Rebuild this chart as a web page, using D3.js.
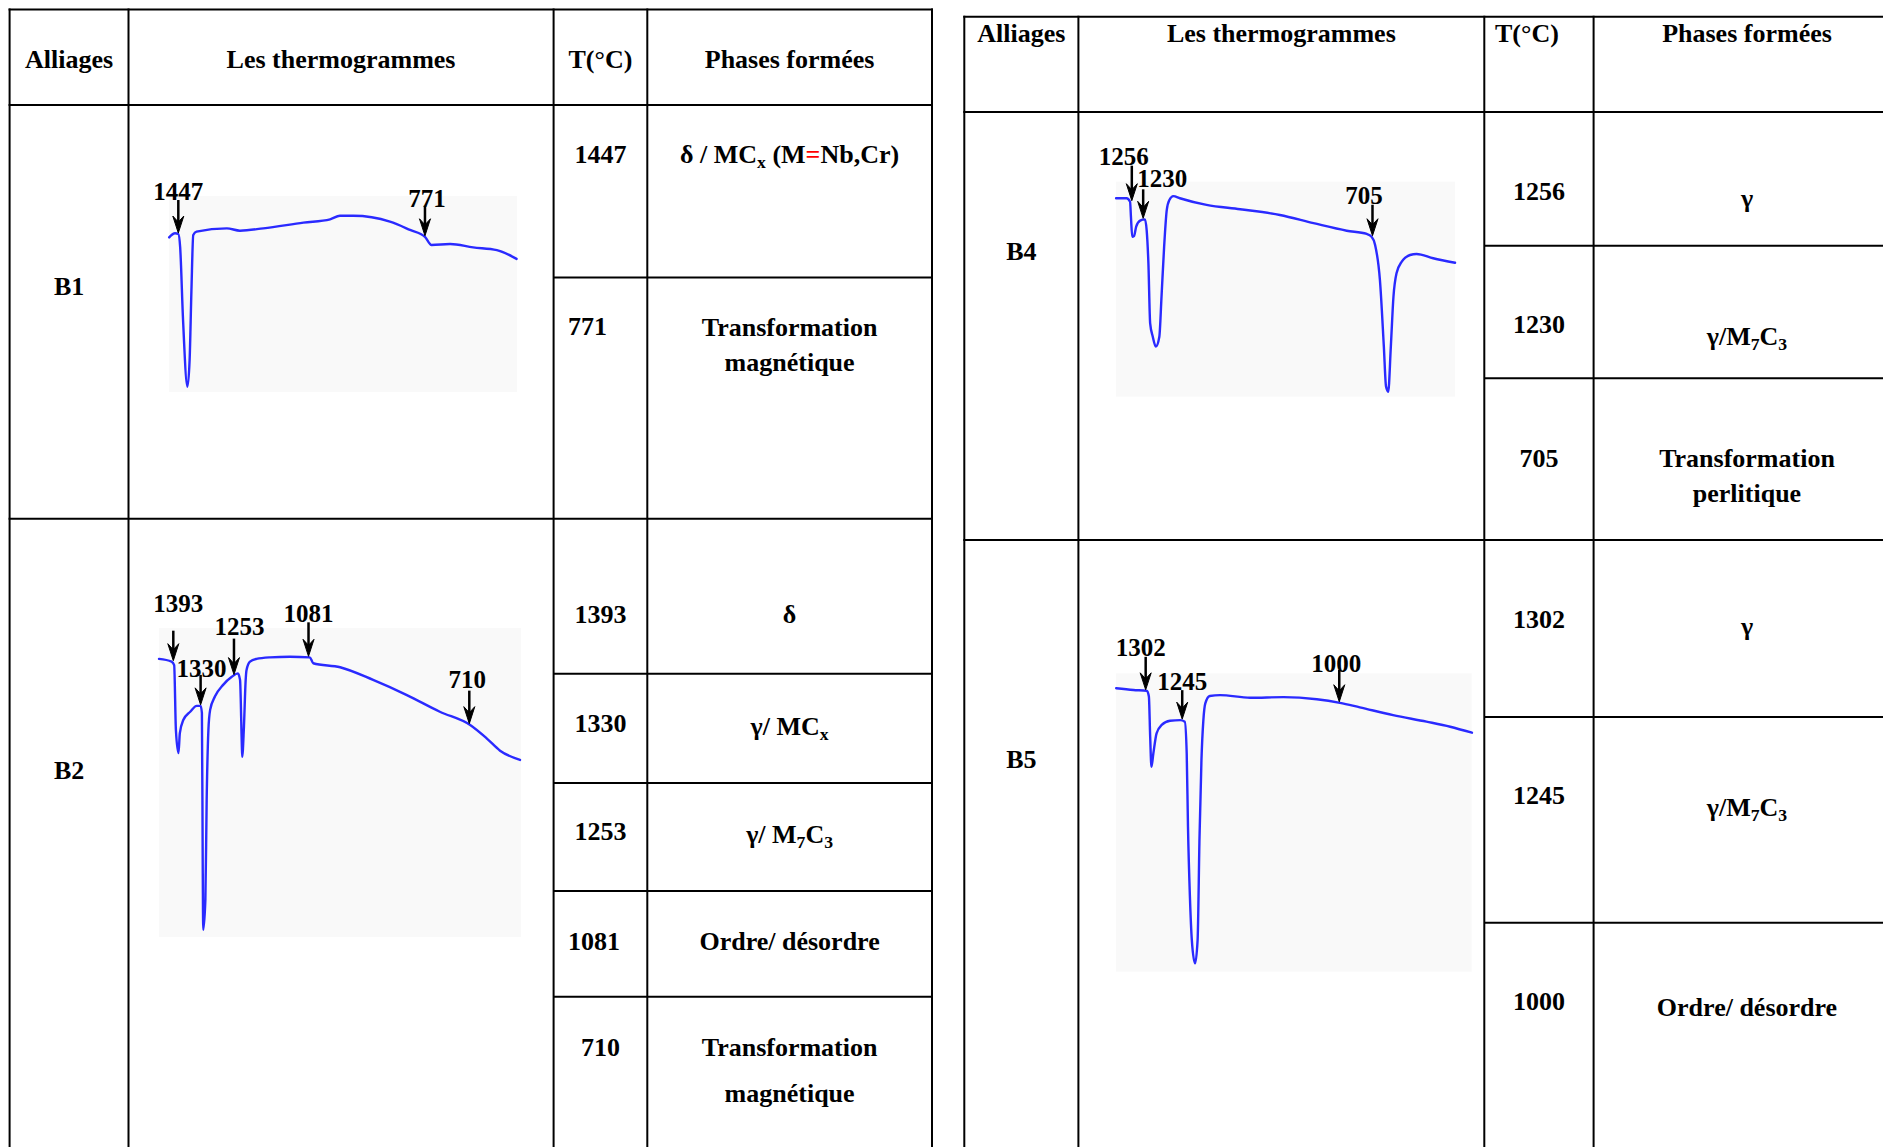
<!DOCTYPE html>
<html>
<head>
<meta charset="utf-8">
<script src="https://cdn.jsdelivr.net/npm/d3@7"></script>
<style>
  html, body { margin: 0; padding: 0; background: #fff; }
  svg { display: block; }
  text { font-family: "Liberation Serif", "Times New Roman", serif; font-weight: bold; fill: #000; }
</style>
</head>
<body>
<script>
// ---------------------------------------------------------------
// Data
// ---------------------------------------------------------------
const headers = ["Alliages", "Les thermogrammes", "T(°C)", "Phases formées"];
const alloys = ["B1", "B2", "B4", "B5"];

// Transformation temperatures picked on each cooling thermogram (°C)
const b1Peaks = [1447, 771];
const b2Peaks = [1393, 1330, 1253, 1081, 710];
const b4Peaks = [1256, 1230, 705];
const b5Peaks = [1302, 1245, 1000];

// Phases formed ('_' = one-character subscript, '\n' = line break)
const b1Phases = ["δ / MC_x (M=Nb,Cr)", "Transformation\nmagnétique"];
const b2Phases = ["δ", "γ/ MC_x", "γ/ M_7C_3", "Ordre/ désordre", "Transformation\nmagnétique"];
const b4Phases = ["γ", "γ/M_7C_3", "Transformation\nperlitique"];
const b5Phases = ["γ", "γ/M_7C_3", "Ordre/ désordre"];

// Temperature span covered by each trace (°C, high → low)
const b1Window = [1472.5, 518.8];
const b2Window = [1426, 590.7];
const b4Window = [1292.2, 516.1];
const b5Window = [1348.3, 793.4];

// DTA traces: temperature (°C) and signal (arbitrary units, 0–100)
const b1Temperature = [1472, 1456, 1447, 1442, 1434, 1422, 1416, 1411, 1406, 1397, 1314, 1278, 1214, 1104, 1031, 1004, 967, 867, 812, 771, 753, 702, 639, 574, 520];
const b1Signal      = [78.9, 81.0, 80.6, 74.1, 36.7, 2.7, 16.3, 52.0, 80.1, 81.8, 83.5, 82.3, 83.5, 86.4, 88.1, 89.9, 89.9, 86.9, 82.7, 79.2, 75.0, 75.5, 73.8, 72.4, 67.9];

const b2Temperature = [1426, 1397, 1391, 1387, 1381, 1378, 1370, 1354, 1339, 1330, 1327, 1325, 1324, 1319, 1316, 1312, 1308, 1297, 1278, 1258, 1244, 1239, 1235, 1234, 1230, 1226, 1224, 1216, 1201, 1170, 1124, 1078, 1070, 1008, 932, 854, 778, 708, 670, 639, 593];
const b2Signal      = [90.0, 89.1, 88.0, 67.0, 59.5, 65.9, 70.2, 72.9, 74.8, 74.8, 72.5, 20.7, 2.3, 12.0, 44.3, 67.0, 73.5, 77.8, 81.6, 84.2, 85.3, 83.2, 62.7, 58.3, 68.1, 83.2, 86.4, 89.1, 90.0, 90.5, 90.7, 90.5, 88.6, 87.3, 83.2, 78.3, 72.9, 68.6, 64.3, 60.3, 57.3];

const b4Temperature = [1292, 1268, 1260, 1258, 1255, 1251, 1246, 1237, 1226, 1222, 1218, 1214, 1208, 1201, 1193, 1188, 1182, 1176, 1170, 1161, 1146, 1085, 1008, 917, 840, 764, 718, 707, 699, 688, 679, 674, 669, 663, 657, 650, 638, 619, 604, 566, 516];
const b4Signal      = [92.3, 92.3, 90.7, 83.7, 74.4, 74.7, 79.1, 81.9, 82.5, 77.5, 62.0, 34.1, 27.9, 23.3, 27.9, 46.5, 69.8, 86.8, 91.5, 93.3, 92.3, 89.2, 87.2, 84.5, 80.7, 77.2, 75.7, 74.4, 70.6, 54.3, 23.3, 4.7, 2.3, 23.3, 46.5, 57.4, 62.8, 65.9, 66.4, 64.4, 62.3];

const b5Temperature = [1348, 1321, 1300, 1297, 1295, 1293, 1290, 1285, 1277, 1264, 1248, 1241, 1238, 1236, 1233, 1230, 1225, 1221, 1218, 1215, 1212, 1209, 1202, 1186, 1139, 1087, 1035, 999, 968, 916, 864, 827, 793];
const b5Signal      = [95.0, 94.4, 94.1, 92.2, 78.8, 68.7, 73.2, 79.9, 82.7, 84.1, 84.3, 83.8, 73.2, 48.6, 25.2, 10.6, 2.8, 10.6, 45.2, 70.9, 84.3, 89.9, 92.4, 92.7, 91.8, 92.0, 91.3, 90.1, 88.6, 86.0, 83.8, 82.1, 80.1];

// ---------------------------------------------------------------
// Layout
// ---------------------------------------------------------------
const W = 1883, H = 1147;
const TRACE_COLOR = "#2a2aff";
const PANEL_FILL = "#f9f9f9";

const tableLayouts = [
  { cols: [9.6, 128.5, 553.6, 647.3, 932], top: 9.6, headBottom: 105, headBaseline: 67.5,
    tHeadStart: null, phaseX: 789.6 },
  { cols: [964.3, 1078.4, 1484.3, 1593.6, 1900], top: 16.8, headBottom: 112, headBaseline: 42,
    tHeadStart: 1495, phaseX: 1747 }
];

const rowLayouts = {
  B1: { table: 0, bottom: 518.8, splits: [277.4], alloyBaseline: 295,
        tBaselines: [163.3, 335], tAnchors: ["middle", "start"],
        phaseBaselines: [[163.3], [336, 371]],
        panel: { x0: 169, x1: 517, y0: 196, y1: 392 },
        markers: [{ dx: 0, dy: -33, len: 33 }, { dx: 2, dy: -29, len: 30 }] },
  B2: { table: 0, bottom: H + 10, splits: [673.7, 783, 891, 996.8], alloyBaseline: 779,
        tBaselines: [623, 732, 840, 949.5, 1056.4], tAnchors: ["middle", "middle", "middle", "start", "middle"],
        phaseBaselines: [[623], [734.5], [842.5], [949.5], [1056.4, 1102]],
        panel: { x0: 159, x1: 521, y0: 628, y1: 937 },
        markers: [{ dx: 5, dy: -48.5, len: 30 }, { dx: 1, dy: -28, len: 30 }, { dx: 5.5, dy: -40, len: 36 },
                  { dx: 0, dy: -34, len: 34 }, { dx: -2, dy: -36, len: 33 }] },
  B4: { table: 1, bottom: 540, splits: [245.7, 378.3], alloyBaseline: 260,
        tBaselines: [200, 333.3, 466.7], tAnchors: ["middle", "middle", "middle"],
        phaseBaselines: [[207], [345], [466.7, 501.7]],
        panel: { x0: 1116, x1: 1455, y0: 181.7, y1: 396.7 },
        markers: [{ dx: -8, dy: -36, len: 35 }, { dx: 19, dy: -31, len: 29 }, { dx: -8.6, dy: -32, len: 31 }] },
  B5: { table: 1, bottom: H + 10, splits: [717, 922.7], alloyBaseline: 768,
        tBaselines: [627.5, 804, 1009.6], tAnchors: ["middle", "middle", "middle"],
        phaseBaselines: [[634.5], [815.8], [1015.6]],
        panel: { x0: 1116, x1: 1471.7, y0: 673.3, y1: 971.7 },
        markers: [{ dx: -5, dy: -34, len: 33 }, { dx: 0, dy: -29, len: 29 }, { dx: -3, dy: -30, len: 32 }] }
};

const rows = [
  { alloy: alloys[0], peaks: b1Peaks, phases: b1Phases, window: b1Window, temperature: b1Temperature, signal: b1Signal },
  { alloy: alloys[1], peaks: b2Peaks, phases: b2Phases, window: b2Window, temperature: b2Temperature, signal: b2Signal },
  { alloy: alloys[2], peaks: b4Peaks, phases: b4Phases, window: b4Window, temperature: b4Temperature, signal: b4Signal },
  { alloy: alloys[3], peaks: b5Peaks, phases: b5Phases, window: b5Window, temperature: b5Temperature, signal: b5Signal }
];

// ---------------------------------------------------------------
// Drawing
// ---------------------------------------------------------------
const svg = d3.select("body").append("svg").attr("width", W).attr("height", H);
svg.append("rect").attr("width", W).attr("height", H).attr("fill", "#fff");

const gridLayer = svg.append("g").attr("stroke", "#000").attr("stroke-width", 2);
const textLayer = svg.append("g");
const traceLayer = svg.append("g");

function hLine(x0, x1, y) {
  gridLayer.append("line").attr("x1", x0).attr("x2", x1).attr("y1", y).attr("y2", y);
}
function vLine(x, y0, y1) {
  gridLayer.append("line").attr("x1", x).attr("x2", x).attr("y1", y0).attr("y2", y1);
}

// Writes a string with one-character subscripts ('_') and a red '=' sign.
function richText(textSel, str) {
  const runs = [];
  for (let i = 0; i < str.length; i++) {
    const ch = str[i];
    if (ch === "_") { runs.push({ t: str[i + 1], sub: true }); i++; continue; }
    if (ch === "=") { runs.push({ t: ch, red: true }); continue; }
    const last = runs[runs.length - 1];
    if (last && !last.sub && !last.red) last.t += ch;
    else runs.push({ t: ch });
  }
  let shifted = false;
  runs.forEach(r => {
    const ts = textSel.append("tspan").text(r.t);
    if (r.sub) {
      ts.attr("font-size", "0.68em");
      if (!shifted) { ts.attr("dy", 5); shifted = true; }
    } else if (shifted) {
      ts.attr("dy", -5); shifted = false;
    }
    if (r.red) ts.style("fill", "#ff0000");
  });
}

// Table frames and headers
tableLayouts.forEach(tl => {
  const c = tl.cols;
  hLine(c[0] - 1, c[4] + 1, tl.top);
  hLine(c[0] - 1, c[4] + 1, tl.headBottom);
  c.forEach(x => vLine(x, tl.top - 1, H + 5));
  headers.forEach((h, i) => {
    const t = textLayer.append("text").attr("font-size", 26).attr("y", tl.headBaseline);
    if (i === 2 && tl.tHeadStart !== null) {
      t.attr("x", tl.tHeadStart).attr("text-anchor", "start");
    } else {
      const cx = i === 3 ? tl.phaseX : (c[i] + c[i + 1]) / 2;
      t.attr("x", cx).attr("text-anchor", "middle");
    }
    t.text(h);
  });
});

// Linear interpolation of a trace at temperature T (temperatures descending)
function signalAt(temps, sig, T) {
  for (let i = 0; i < temps.length - 1; i++) {
    const a = temps[i], b = temps[i + 1];
    if (T <= a && T >= b) {
      const f = (a - T) / (a - b);
      return sig[i] + f * (sig[i + 1] - sig[i]);
    }
  }
  return sig[sig.length - 1];
}

rows.forEach(row => {
  const L = rowLayouts[row.alloy];
  const tl = tableLayouts[L.table];
  const c = tl.cols;

  // Row separators
  if (L.bottom < H) hLine(c[0] - 1, c[4] + 1, L.bottom);
  L.splits.forEach(y => hLine(c[2], c[4] + 1, y));

  // Alloy name
  textLayer.append("text").attr("font-size", 26)
    .attr("x", (c[0] + c[1]) / 2).attr("y", L.alloyBaseline)
    .attr("text-anchor", "middle").text(row.alloy);

  // Temperatures and phases
  row.peaks.forEach((T, i) => {
    const anchor = L.tAnchors[i];
    textLayer.append("text").attr("font-size", 26)
      .attr("x", anchor === "start" ? c[2] + 14.5 : (c[2] + c[3]) / 2)
      .attr("y", L.tBaselines[i])
      .attr("text-anchor", anchor).text(T);

    row.phases[i].split("\n").forEach((line, j) => {
      const t = textLayer.append("text").attr("font-size", 26)
        .attr("x", tl.phaseX).attr("y", L.phaseBaselines[i][j])
        .attr("text-anchor", "middle");
      richText(t, line);
    });
  });

  // Thermogram
  const p = L.panel;
  const x = d3.scaleLinear().domain(row.window).range([p.x0, p.x1]);
  const y = d3.scaleLinear().domain([0, 100]).range([p.y1, p.y0]);
  const g = traceLayer.append("g");

  g.append("rect").attr("x", p.x0).attr("y", p.y0)
    .attr("width", p.x1 - p.x0).attr("height", p.y1 - p.y0).attr("fill", PANEL_FILL);

  const pts = d3.zip(row.temperature, row.signal);
  const line = d3.line().x(d => x(d[0])).y(d => y(d[1])).curve(d3.curveMonotoneX);
  g.append("path").datum(pts).attr("d", line)
    .attr("fill", "none").attr("stroke", TRACE_COLOR).attr("stroke-width", 2.4)
    .attr("stroke-linejoin", "round").attr("stroke-linecap", "round");

  // Event arrows and their temperature labels
  row.peaks.forEach((T, i) => {
    const m = L.markers[i];
    const px = x(T);
    // arrow points to the upper envelope of the trace around the event
    let s = signalAt(row.temperature, row.signal, T);
    pts.forEach(d => { if (Math.abs(d[0] - T) <= 6) s = Math.max(s, d[1]); });
    const tip = y(s) - 1;

    g.append("line").attr("x1", px).attr("x2", px)
      .attr("y1", tip - m.len).attr("y2", tip - 9)
      .attr("stroke", "#000").attr("stroke-width", 2.5);
    g.append("path")
      .attr("d", `M${px},${tip} L${px - 5.5},${tip - 17} L${px},${tip - 11} L${px + 5.5},${tip - 17} Z`)
      .attr("fill", "#000").attr("stroke", "#000").attr("stroke-width", 1)
      .attr("stroke-linejoin", "miter");
    g.append("text").attr("font-size", 25)
      .attr("x", px + m.dx).attr("y", tip + m.dy)
      .attr("text-anchor", "middle").text(T);
  });
});
</script>
</body>
</html>
